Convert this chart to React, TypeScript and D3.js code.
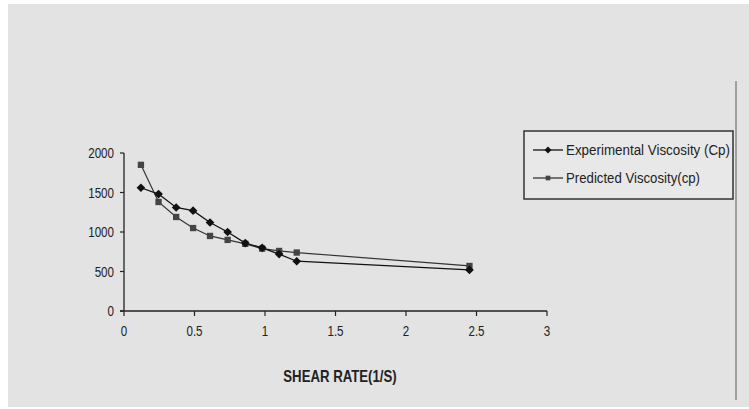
import React from 'react';
import * as d3 from 'd3';

// shear rate (1/s) and viscosity values
const shearRate = [0.12, 0.245, 0.37, 0.49, 0.61, 0.735, 0.86, 0.98, 1.1, 1.225, 2.45];
const experimental = [1560, 1480, 1310, 1270, 1120, 1000, 860, 800, 720, 630, 520];
const predicted = [1850, 1380, 1190, 1050, 950, 900, 850, 790, 760, 740, 570];

const xTicks = [0, 0.5, 1, 1.5, 2, 2.5, 3];
const yTicks = [0, 500, 1000, 1500, 2000];

const legendLabels = ['Experimental Viscosity  (Cp)', 'Predicted Viscosity(cp)'];

const W = 749;
const H = 409;
const FONT = '"Liberation Sans Narrow", "Liberation Sans", Arial, sans-serif';

// condensed text, the source uses a narrow font
function Narrow({ x, y, anchor, size, bold, children }: any) {
	const sx = 0.8;
	return (
		<text transform={`translate(${x},${y}) scale(${sx},1)`} textAnchor={anchor} fontFamily={FONT}
			fontSize={size} fontWeight={bold ? 'bold' : 'normal'} fill="#222">{children}</text>
	);
}

export default function App() {
	const x = d3.scaleLinear().domain([0, 3]).range([124, 547]);
	const y = d3.scaleLinear().domain([0, 2000]).range([311, 153]);

	const line = d3.line<number>()
		.x((d, i) => x(shearRate[i]))
		.y(d => y(d));

	const diamond = d3.symbol().type(d3.symbolDiamond2).size(48)();
	const square = d3.symbol().type(d3.symbolSquare).size(40)();

	return (
		<div style={{ position: 'fixed', left: 0, top: 0 }}>
			<svg width={W} height={H} style={{ display: 'block', background: '#fff' }}>
				<rect x={8} y={4} width={W - 8} height={H - 6} fill="#e3e3e3" />
				{/* right border line */}
				<line x1={736} x2={736} y1={81} y2={400} stroke="#8a8a8a" strokeWidth={1.5} />

				{/* axes */}
				<line x1={x(0)} x2={x(0)} y1={y(0)} y2={y(2000)} stroke="#222" strokeWidth={1.3} />
				<line x1={x(0) - 4} x2={x(3)} y1={y(0)} y2={y(0)} stroke="#222" strokeWidth={1.3} />
				{yTicks.map(t => (
					<g key={'y' + t}>
						<line x1={x(0) - 4} x2={x(0)} y1={y(t)} y2={y(t)} stroke="#222" strokeWidth={1.2} />
						<Narrow x={x(0) - 10} y={y(t) + 5} anchor="end" size={14.5}>{t}</Narrow>
					</g>
				))}
				{xTicks.map(t => (
					<g key={'x' + t}>
						<line x1={x(t)} x2={x(t)} y1={y(0)} y2={y(0) + 5} stroke="#222" strokeWidth={1.2} />
						<Narrow x={x(t)} y={y(0) + 25} anchor="middle" size={14.5}>{t}</Narrow>
					</g>
				))}
				<Narrow x={340} y={382} anchor="middle" size={16.5} bold>SHEAR RATE(1/S)</Narrow>

				{/* series */}
				<path d={line(predicted) || ''} fill="none" stroke="#333" strokeWidth={1.2} />
				<path d={line(experimental) || ''} fill="none" stroke="#111" strokeWidth={1.3} />
				{predicted.map((v, i) => (
					<path key={'p' + i} d={square || ''} transform={`translate(${x(shearRate[i])},${y(v)})`} fill="#444" />
				))}
				{experimental.map((v, i) => (
					<path key={'e' + i} d={diamond || ''} transform={`translate(${x(shearRate[i])},${y(v)})`} fill="#111" />
				))}

				{/* legend */}
				<rect x={524} y={131} width={209} height={68} fill="#e8e8e8" stroke="#333" strokeWidth={1.5} />
				{legendLabels.map((label, i) => {
					const ly = 150 + i * 28;
					return (
						<g key={label}>
							<line x1={533} x2={563} y1={ly} y2={ly} stroke={i === 0 ? '#111' : '#333'} strokeWidth={1.3} />
							<path d={(i === 0 ? d3.symbol().type(d3.symbolDiamond2).size(30)() : d3.symbol().type(d3.symbolSquare).size(22)()) || ''}
								transform={`translate(548,${ly})`} fill={i === 0 ? '#111' : '#444'} />
							<text x={566} y={ly + 5} fontFamily={FONT} fontSize={14} fill="#222"
								textLength={i === 0 ? 164 : 134} lengthAdjust="spacingAndGlyphs">{label}</text>
						</g>
					);
				})}
			</svg>
		</div>
	);
}
